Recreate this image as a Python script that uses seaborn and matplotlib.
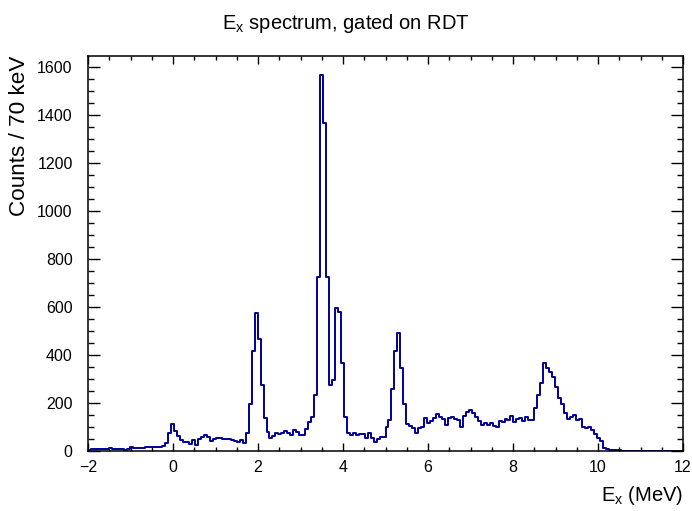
import numpy as np
import pandas as pd
import seaborn as sns
import matplotlib
matplotlib.use("Agg")
import matplotlib.pyplot as plt
from matplotlib.ticker import MultipleLocator

# ---- data: counts per 70 keV bin, Ex from -2 to 12 MeV ----
ex_min = -2.0
ex_max = 12.0
bin_width = 0.07
counts = [
    6, 9, 7, 10, 8, 7, 9, 11, 8, 9,            # 0-9
    8, 7, 6, 8, 16, 14, 12, 11, 13, 15,        # 10-19
    16, 17, 18, 17, 18, 19, 32, 74, 114, 82,   # 20-29
    62, 46, 36, 39, 30, 44, 26, 49, 60, 65,    # 30-39
    58, 40, 50, 55, 55, 52, 52, 49, 45, 42,    # 40-49
    38, 46, 34, 74, 196, 417, 574, 465, 275, 136,  # 50-59
    80, 53, 62, 74, 72, 76, 83, 76, 67, 87,    # 60-69
    78, 67, 67, 90, 122, 143, 233, 726, 1567, 1365,  # 70-79
    726, 275, 296, 594, 580, 365, 143, 74, 67, 74,   # 80-89
    67, 70, 71, 53, 74, 55, 39, 49, 60, 60,    # 90-99
    101, 129, 257, 417, 493, 347, 196, 111, 104, 94,  # 100-109
    76, 94, 101, 136, 115, 125, 136, 154, 143, 133,   # 110-119
    108, 136, 140, 132, 129, 99, 146, 164, 170, 157,  # 120-129
    143, 125, 108, 115, 108, 115, 104, 99, 126, 122,  # 130-139
    132, 129, 146, 122, 132, 139, 126, 140, 129, 130, # 140-149
    178, 233, 285, 368, 345, 331, 307, 268, 222, 195, # 150-159
    160, 135, 140, 150, 129, 132, 101, 94, 100, 88,   # 160-169
    70, 55, 40, 12, 9, 5, 4, 5, 3, 2,          # 170-179
    1, 0, 1, 1, 0, 0, 1, 0, 0, 0,              # 180-189
    1, 0, 0, 0, 0, 0, 0, 0, 0, 0,              # 190-199
]
assert len(counts) == 200

centers = ex_min + bin_width * (np.arange(len(counts)) + 0.5)
df = pd.DataFrame({"Ex": centers, "counts": counts})

x_ticks = [-2, 0, 2, 4, 6, 8, 10, 12]
y_ticks = [0, 200, 400, 600, 800, 1000, 1200, 1400, 1600]

# ---- style ----
sns.set_style("ticks")
plt.rcParams["font.family"] = ["Liberation Sans", "DejaVu Sans"]
plt.rcParams["mathtext.fontset"] = "custom"
plt.rcParams["mathtext.rm"] = "Liberation Sans"
plt.rcParams["mathtext.it"] = "Liberation Sans:italic"
plt.rcParams["text.color"] = "black"
plt.rcParams["axes.labelcolor"] = "black"
plt.rcParams["xtick.color"] = "black"
plt.rcParams["ytick.color"] = "black"

fig = plt.figure(figsize=(6.92, 5.11), dpi=100)
ax = fig.add_axes([88 / 692, 1 - 451 / 511, 595 / 692, 395 / 511])

sns.histplot(data=df, x="Ex", weights="counts", bins=len(counts),
             binrange=(ex_min, ex_max), element="step",
             fill=False, color="#000099", linewidth=1.4, ax=ax)

ax.set_xlim(ex_min, ex_max)
ax.set_ylim(0, 1645)
ax.set_xticks(x_ticks)
ax.set_yticks(y_ticks)
ax.xaxis.set_minor_locator(MultipleLocator(0.5))
ax.yaxis.set_minor_locator(MultipleLocator(50))

for s in ax.spines.values():
    s.set_visible(True)
    s.set_linewidth(1.1)
    s.set_color("black")

ax.tick_params(axis="both", which="both", direction="in", top=True, right=True,
               colors="black", labelcolor="black", width=1.0)
ax.tick_params(axis="x", which="major", length=5.5, pad=6.5, labelsize=11.5)
ax.tick_params(axis="x", which="minor", length=3)
ax.tick_params(axis="y", which="major", length=8.5, pad=11, labelsize=11.5)
ax.tick_params(axis="y", which="minor", length=4.3)

ax.set_xlabel(r"E$_{\mathrm{x}}$ (MeV)", fontsize=14.5, loc="right", color="black")
ax.set_ylabel("Counts / 70 keV", fontsize=16.2, loc="top", color="black")
ax.xaxis.set_label_coords(1.0, -0.084)
ax.yaxis.set_label_coords(-0.098, 1.0)

fig.text(0.5, 1 - 23 / 511, r"E$_{\mathrm{x}}$ spectrum, gated on RDT",
         ha="center", va="center", fontsize=14.5, color="black")

fig.savefig("out.png", dpi=100)
